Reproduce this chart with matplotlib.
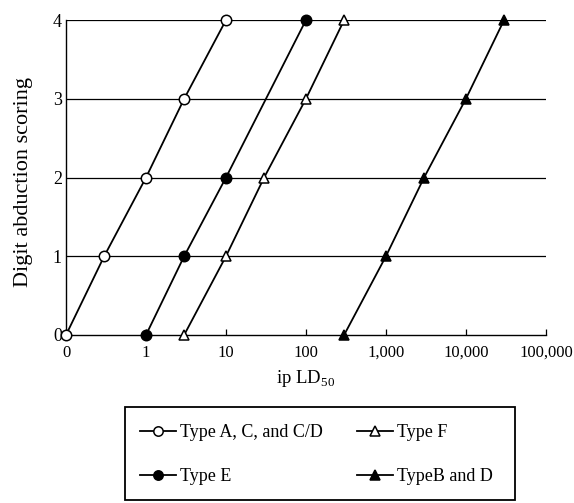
import matplotlib.pyplot as plt
from matplotlib.patches import Rectangle
from matplotlib.ticker import FixedLocator, NullLocator

# Dose values (ip LD50); "0" is drawn at the 0.1 position of the log axis
x_acd = [0.1, 0.3, 1, 3, 10]
y_acd = [0, 1, 2, 3, 4]
x_e = [1, 3, 10, 100]
y_e = [0, 1, 2, 4]
x_f = [3, 10, 30, 100, 300]
y_f = [0, 1, 2, 3, 4]
x_bd = [300, 1000, 3000, 10000, 30000]
y_bd = [0, 1, 2, 3, 4]

xtick_vals = [0.1, 1, 10, 100, 1000, 10000, 100000]
xtick_labels = ['0', '1', '10', '100', '1,000', '10,000', '100,000']
ytick_vals = [0, 1, 2, 3, 4]

plt.rcParams['font.family'] = ['Liberation Serif', 'DejaVu Serif']
plt.rcParams['mathtext.fontset'] = 'custom'
plt.rcParams['mathtext.rm'] = 'Liberation Serif'

fig = plt.figure(figsize=(5.74, 5.03), dpi=100)
ax = fig.add_axes([0.115, 0.334, 0.836, 0.626])

for yv in ytick_vals[1:]:
    ax.axhline(yv, color='black', lw=0.9, zorder=1)

common = dict(color='black', lw=1.3, markersize=7.5, markeredgewidth=1.1,
              clip_on=False, zorder=3)
ax.plot(x_acd, y_acd, marker='o', markerfacecolor='white',
        label='Type A, C, and C/D', **common)
ax.plot(x_e, y_e, marker='o', markerfacecolor='black',
        label='Type E', **common)
ax.plot(x_f, y_f, marker='^', markerfacecolor='white',
        label='Type F', **common)
ax.plot(x_bd, y_bd, marker='^', markerfacecolor='black',
        label='TypeB and D', **common)

ax.set_xscale('log')
ax.set_xlim(0.1, 100000)
ax.set_ylim(0, 4)
ax.xaxis.set_major_locator(FixedLocator(xtick_vals))
ax.xaxis.set_minor_locator(NullLocator())
ax.set_xticklabels(xtick_labels)
ax.set_yticks(ytick_vals)
ax.tick_params(axis='x', direction='in', length=4, width=0.9, labelsize=12, pad=7)
ax.tick_params(axis='y', length=0, labelsize=13, pad=3)

for side in ['top', 'right']:
    ax.spines[side].set_visible(False)
ax.spines['left'].set_linewidth(1.0)
ax.spines['bottom'].set_linewidth(1.0)

ax.set_xlabel(r'ip LD$_{\mathrm{50}}$', fontsize=13.5, labelpad=5)
ax.set_ylabel('Digit abduction scoring', fontsize=16)
ax.yaxis.set_label_coords(-0.068, 0.485)

# legend box below the plot
fig.patches.append(Rectangle((0.218, 0.006), 0.679, 0.185, transform=fig.transFigure,
                             fill=False, edgecolor='black', lw=1.3))
handles, labels = ax.get_legend_handles_labels()
fig.legend(handles, labels, ncol=2, loc='upper left',
           bbox_to_anchor=(0.244, 0.157), borderaxespad=0, borderpad=0,
           fontsize=13, frameon=False, labelspacing=1.5, handlelength=2.0,
           handletextpad=0.2, columnspacing=1.9, markerscale=0.9)

fig.savefig('out.png', dpi=100)
